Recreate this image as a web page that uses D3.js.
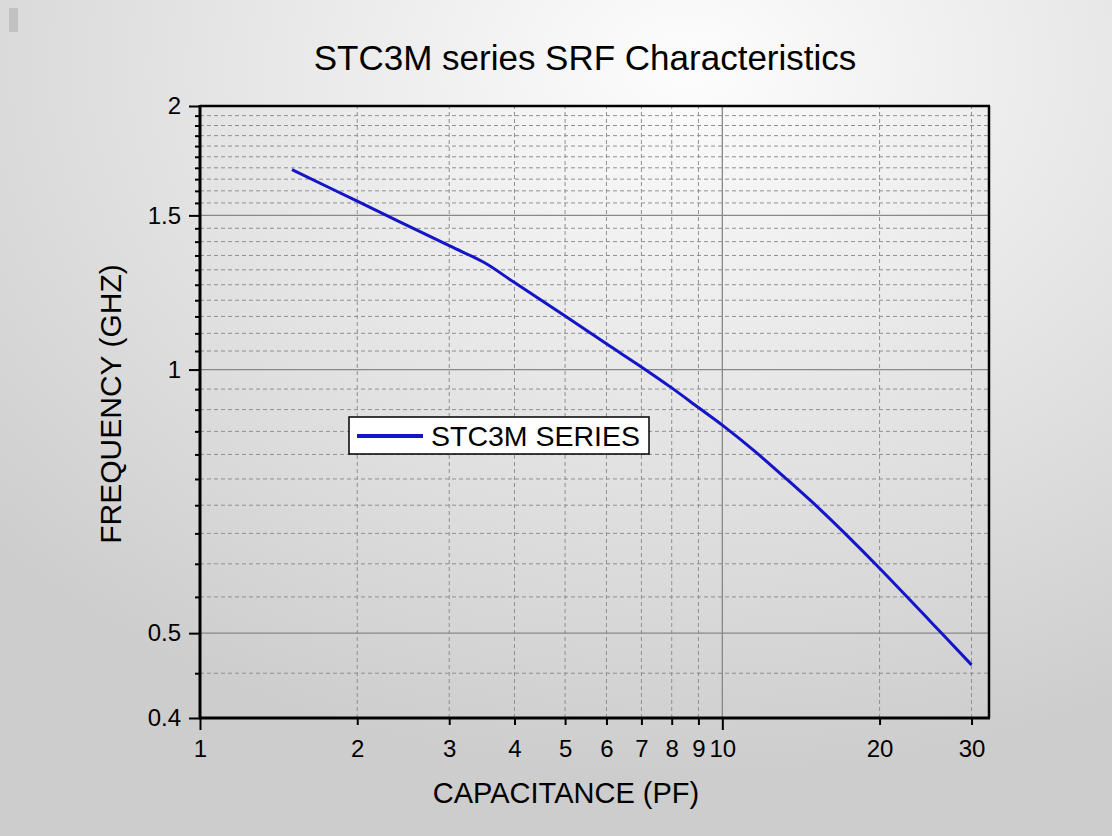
<!DOCTYPE html>
<html>
<head>
<meta charset="utf-8">
<script src="https://cdn.jsdelivr.net/npm/d3@7"></script>
<style>
    body { margin: 0; padding: 0; }
    svg { display: block; }
    text { font-family: "Liberation Sans", Arial, sans-serif; fill: #000; }
</style>
</head>
<body>
<div id="chart_block"></div>
<script>
// data
var capacitance = [1.5, 2, 3, 3.5, 4, 5, 6, 7, 8, 9, 10, 11.5, 13.3, 15.4, 17.3, 20, 25, 30]
var frequency = [1.692, 1.557, 1.385, 1.325, 1.257, 1.151, 1.070, 1.007, 0.953, 0.905, 0.864, 0.808, 0.749, 0.692, 0.647, 0.593, 0.516, 0.460]

var xTicks = [1, 2, 3, 4, 5, 6, 7, 8, 9, 10, 20, 30]
var xMajorGrid = [10]
var xMinorGrid = [2, 3, 4, 5, 6, 7, 8, 9, 20, 30]
var yTicks = [0.4, 0.5, 1, 1.5, 2]
var yMajorGrid = [0.5, 1, 1.5]
var yMinorGrid = [0.45, 0.55, 0.6, 0.65, 0.7, 0.75, 0.8, 0.85, 0.9, 0.95,
    1.05, 1.1, 1.15, 1.2, 1.25, 1.3, 1.35, 1.4, 1.45,
    1.55, 1.6, 1.65, 1.7, 1.75, 1.8, 1.85, 1.9, 1.95]

var chartTitle = "STC3M series SRF Characteristics"
var xTitle = "CAPACITANCE (PF)"
var yTitle = "FREQUENCY (GHZ)"
var seriesName = "STC3M SERIES"

var width = 1112,
    height = 836
var margin = { top: 106, right: 123, bottom: 118, left: 200 }
var blue = "#1414c8"

var svg = d3.select("#chart_block")
    .append("svg")
    .attr("width", width)
    .attr("height", height)

// background
var defs = svg.append("defs")
var grad = defs.append("radialGradient")
    .attr("id", "bg")
    .attr("cx", "62%")
    .attr("cy", "8%")
    .attr("r", "85%")
grad.append("stop").attr("offset", "0%").attr("stop-color", "#fdfdfd")
grad.append("stop").attr("offset", "100%").attr("stop-color", "#cdcdcd")

svg.append("rect")
    .attr("width", width)
    .attr("height", height)
    .attr("fill", "url(#bg)")

svg.append("rect")
    .attr("x", 9).attr("y", 8)
    .attr("width", 9).attr("height", 24)
    .attr("fill", "#c2c2c2")

var x = d3.scaleLog()
    .domain([1, 32.4])
    .range([margin.left, width - margin.right])

var y = d3.scaleLog()
    .domain([0.4, 2])
    .range([height - margin.bottom, margin.top])

var x0 = x.range()[0], x1 = x.range()[1]
var y0 = y.range()[0], y1 = y.range()[1]

// grid
var grid = svg.append("g")
grid.selectAll(".ygm")
    .data(yMinorGrid).enter()
    .append("line")
    .attr("x1", x0).attr("x2", x1)
    .attr("y1", d => y(d)).attr("y2", d => y(d))
    .style("stroke", "#909090")
    .style("stroke-width", 1)
    .style("stroke-dasharray", "4,3")
grid.selectAll(".xgm")
    .data(xMinorGrid).enter()
    .append("line")
    .attr("x1", d => x(d)).attr("x2", d => x(d))
    .attr("y1", y0).attr("y2", y1)
    .style("stroke", "#909090")
    .style("stroke-width", 1)
    .style("stroke-dasharray", "4,3")
grid.selectAll(".ygM")
    .data(yMajorGrid).enter()
    .append("line")
    .attr("x1", x0).attr("x2", x1)
    .attr("y1", d => y(d)).attr("y2", d => y(d))
    .style("stroke", "#888")
    .style("stroke-width", 1.3)
grid.selectAll(".xgM")
    .data(xMajorGrid).enter()
    .append("line")
    .attr("x1", d => x(d)).attr("x2", d => x(d))
    .attr("y1", y0).attr("y2", y1)
    .style("stroke", "#888")
    .style("stroke-width", 1.3)

// curve
var line = d3.line()
    .x((d, i) => x(capacitance[i]))
    .y(d => y(d))
    .curve(d3.curveCatmullRom.alpha(0.5))

svg.append("path")
    .datum(frequency)
    .attr("d", line)
    .attr("fill", "none")
    .attr("stroke", blue)
    .attr("stroke-width", 3)
    .attr("stroke-linejoin", "round")

// axes
var xAxis = svg.append("g")
    .attr("transform", "translate(0," + y0 + ")")
    .call(d3.axisBottom(x).tickValues(xTicks).tickFormat(d3.format("d")).tickSize(7).tickPadding(15))
xAxis.select(".domain").remove()
xAxis.selectAll(".tick line")
    .attr("y2", d => (d == 1 || d == 10) ? 12 : 7)
    .style("stroke", "#000")
    .style("stroke-width", 2)
xAxis.selectAll(".tick text")
    .style("font-size", "24px")

var yAxisMinor = svg.append("g")
    .attr("transform", "translate(" + x0 + ",0)")
    .call(d3.axisLeft(y).tickValues(yMinorGrid).tickFormat("").tickSize(5))
yAxisMinor.select(".domain").remove()
yAxisMinor.selectAll(".tick line").style("stroke", "#000").style("stroke-width", 2)

var yAxis = svg.append("g")
    .attr("transform", "translate(" + x0 + ",0)")
    .call(d3.axisLeft(y).tickValues(yTicks).tickFormat(d3.format("")).tickSize(11).tickPadding(8))
yAxis.select(".domain").remove()
yAxis.selectAll(".tick line").style("stroke", "#000").style("stroke-width", 2)
yAxis.selectAll(".tick text")
    .style("font-size", "24px")

// frame
svg.append("line")
    .attr("x1", x0).attr("x2", x0).attr("y1", y1 - 1).attr("y2", y0 + 1)
    .style("stroke", "#000").style("stroke-width", 3)
svg.append("line")
    .attr("x1", x0 - 1).attr("x2", x1 + 1).attr("y1", y0).attr("y2", y0)
    .style("stroke", "#000").style("stroke-width", 3)
svg.append("line")
    .attr("x1", x0).attr("x2", x1 + 1).attr("y1", y1).attr("y2", y1)
    .style("stroke", "#000").style("stroke-width", 2.5)
svg.append("line")
    .attr("x1", x1).attr("x2", x1).attr("y1", y1).attr("y2", y0)
    .style("stroke", "#000").style("stroke-width", 2.5)

// legend
var legend = svg.append("g")
    .attr("transform", "translate(349,417)")
legend.append("rect")
    .attr("width", 300).attr("height", 37)
    .attr("fill", "#fff")
    .attr("stroke", "#000")
    .attr("stroke-width", 1.5)
legend.append("line")
    .attr("x1", 8).attr("x2", 74).attr("y1", 19).attr("y2", 19)
    .attr("stroke", blue).attr("stroke-width", 4)
legend.append("text")
    .attr("x", 82).attr("y", 29)
    .style("font-size", "28.5px")
    .text(seriesName)

// titles
svg.append("text")
    .attr("x", 585).attr("y", 70)
    .attr("text-anchor", "middle")
    .style("font-size", "35px")
    .text(chartTitle)

svg.append("text")
    .attr("x", 566).attr("y", 803)
    .attr("text-anchor", "middle")
    .style("font-size", "29px")
    .text(xTitle)

svg.append("text")
    .attr("transform", "translate(121,404) rotate(-90)")
    .attr("text-anchor", "middle")
    .style("font-size", "30px")
    .text(yTitle)
</script>
</body>
</html>
